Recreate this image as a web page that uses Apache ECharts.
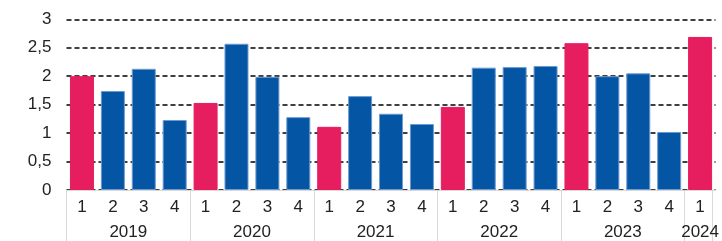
<!DOCTYPE html>
<html>
<head>
<meta charset="utf-8">
<script src="https://cdn.jsdelivr.net/npm/echarts@6/dist/echarts.min.js"></script>
<style>
html,body{margin:0;padding:0;background:#fff;}
#chart{width:722px;height:241px;}
</style>
</head>
<body>
<div id="chart"></div>
<script>
const quarters = ['1','2','3','4','1','2','3','4','1','2','3','4','1','2','3','4','1','2','3','4','1'];
const values = [2.0,1.74,2.13,1.23, 1.53,2.57,1.99,1.28, 1.11,1.65,1.34,1.16, 1.46,2.15,2.16,2.18, 2.58,2.0,2.05,1.02, 2.69];
const years = ['2019','2020','2021','2022','2023','2024'];
const yearCenters = [2,6,10,14,18,20.5];
const yearBounds = [0,4,8,12,16,20,20.9];
const yTicks = ['0','0,5','1','1,5','2','2,5','3'];

const PINK = '#E61E60', BLUE = '#0455A4';
const chart = echarts.init(document.getElementById('chart'));
const font = 'Liberation Sans, Arial, sans-serif';
chart.setOption({
  animation:false,
  grid:{left:66.5, right:6, top:19.3, bottom:50.7},
  xAxis:[{
    type:'category', data:quarters,
    axisLine:{show:true, lineStyle:{color:'#d9d9d9', width:1}},
    axisTick:{show:false},
    axisLabel:{color:'#222', fontFamily:font, fontSize:17, margin:9, interval:0}
  },{
    type:'value', min:0, max:21, position:'bottom',
    axisLine:{show:false},
    splitLine:{show:false},
    axisTick:{show:true, length:51, customValues:yearBounds, lineStyle:{color:'#d9d9d9', width:1}},
    axisLabel:{show:true, customValues:yearCenters, hideOverlap:false, color:'#222', fontFamily:font, fontSize:17, margin:34,
      formatter:function(v){ const i = yearCenters.indexOf(v); return i>=0 ? years[i] : ''; }}
  }],
  yAxis:{
    type:'value', min:0, max:3, interval:0.5,
    axisLine:{show:false}, axisTick:{show:false},
    axisLabel:{color:'#222', fontFamily:font, fontSize:17, margin:15,
      formatter:function(v){ return yTicks[Math.round(v*2)]; }},
    splitLine:{show:true, lineStyle:{color:'#000', type:[5,3], width:1.5}}
  },
  series:[{
    type:'bar', xAxisIndex:0, barWidth:24,
    data: values.map((v,i)=>({value:v, itemStyle:{
      color: quarters[i]==='1' ? PINK : BLUE,
      borderColor: quarters[i]==='1' ? PINK : '#6d9bd1', borderWidth:1}}))
  }]
});
</script>
</body>
</html>
